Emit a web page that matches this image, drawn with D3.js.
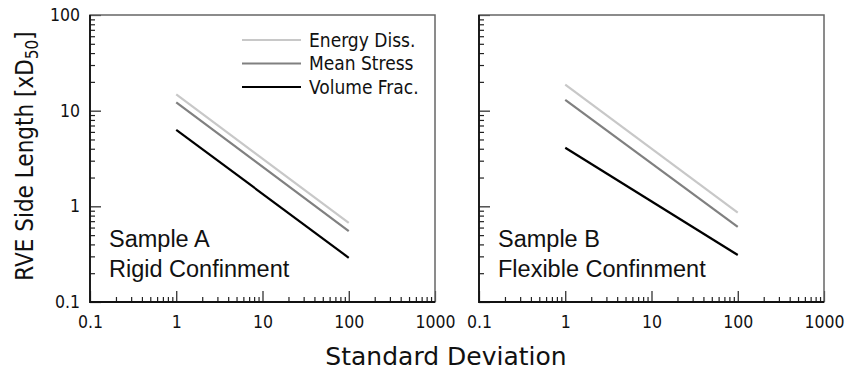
<!DOCTYPE html>
<html>
<head>
<meta charset="utf-8">
<script src="https://cdn.jsdelivr.net/npm/d3@7"></script>
<style>
  body { margin: 0; background: #fff; }
  svg { display: block; }
  .tick text { font-family: "DejaVu Sans Condensed", "DejaVu Sans", sans-serif; font-stretch: condensed; font-size: 17.5px; fill: #111; }
</style>
</head>
<body>
<script>
// data (values at sigma = 1 and sigma = 100)
var stdDev = [1, 100];
var seriesNames = ["Energy Diss.", "Mean Stress", "Volume Frac."];
var seriesColors = ["#c8c8c8", "#808080", "#000000"];
var sampleA = [[14.8, 0.67], [12.2, 0.55], [6.3, 0.29]];
var sampleB = [[18.7, 0.86], [13.0, 0.61], [4.1, 0.31]];
var panelLabels = [["Sample A", "Rigid Confinment"], ["Sample B", "Flexible Confinment"]];
var xMajor = [0.1, 1, 10, 100, 1000];
var yMajor = [0.1, 1, 10, 100];

var width = 845, height = 372;
var plotTop = 15, plotBottom = 302;
var panels = [
  { left: 90, right: 435, data: sampleA, text: panelLabels[0], yLabels: true, legend: true },
  { left: 479, right: 824, data: sampleB, text: panelLabels[1], yLabels: false, legend: false }
];
var condensed = "'DejaVu Sans Condensed', 'DejaVu Sans', sans-serif";

var svg = d3.select("body").append("svg")
  .attr("width", width)
  .attr("height", height);

var y = d3.scaleLog().domain([0.1, 100]).range([plotBottom, plotTop]);

function minorTicks(lo, hi) {
  var t = [];
  for (var e = lo; e < hi; e++) {
    for (var k = 2; k <= 9; k++) t.push(k * Math.pow(10, e));
  }
  return t;
}
var xMinor = minorTicks(-1, 3);
var yMinor = minorTicks(-1, 2);

panels.forEach(function (p) {
  var x = d3.scaleLog().domain([0.1, 1000]).range([p.left, p.right]);
  var g = svg.append("g");

  // minor ticks, pointing inwards
  g.append("g")
    .attr("transform", "translate(0," + plotBottom + ")")
    .call(d3.axisBottom(x).tickValues(xMinor).tickSize(-5).tickFormat(""));
  g.append("g")
    .attr("transform", "translate(" + p.left + ",0)")
    .call(d3.axisLeft(y).tickValues(yMinor).tickSize(-5).tickFormat(""));

  // major ticks with labels
  g.append("g")
    .attr("transform", "translate(0," + plotBottom + ")")
    .call(d3.axisBottom(x).tickValues(xMajor).tickSize(-11).tickPadding(14).tickFormat(d3.format("~g")));
  g.append("g")
    .attr("transform", "translate(" + p.left + ",0)")
    .call(d3.axisLeft(y).tickValues(yMajor).tickSize(-11).tickPadding(10)
      .tickFormat(p.yLabels ? d3.format("~g") : ""));

  g.selectAll(".domain").remove();
  g.selectAll(".tick line").attr("stroke", "#222").attr("stroke-width", 1.2);

  // frame
  g.append("rect")
    .attr("x", p.left).attr("y", plotTop)
    .attr("width", p.right - p.left).attr("height", plotBottom - plotTop)
    .attr("fill", "none").attr("stroke", "#666").attr("stroke-width", 1.5);
  g.append("path")
    .attr("d", "M" + p.left + "," + plotTop + "V" + plotBottom + "H" + p.right)
    .attr("fill", "none").attr("stroke", "#111").attr("stroke-width", 1.8);

  var line = d3.line()
    .x(function (d, i) { return x(stdDev[i]); })
    .y(function (d) { return y(d); });

  g.selectAll(".series")
    .data(p.data)
    .enter().append("path")
    .attr("class", "series")
    .attr("d", line)
    .attr("fill", "none")
    .attr("stroke", function (d, i) { return seriesColors[i]; })
    .attr("stroke-width", 2.2);

  g.append("text")
    .style("font-family", "'Liberation Sans', Arial, sans-serif")
    .style("font-size", "23.5px")
    .attr("fill", "#111")
    .selectAll("tspan")
    .data(p.text)
    .enter().append("tspan")
    .attr("x", p.left + 19)
    .attr("y", function (d, i) { return 247 + i * 30; })
    .text(function (d) { return d; });

  if (p.legend) {
    var lg = g.append("g").attr("transform", "translate(242,40)");
    var item = lg.selectAll("g")
      .data(seriesNames)
      .enter().append("g")
      .attr("transform", function (d, i) { return "translate(0," + i * 23.5 + ")"; });
    item.append("line")
      .attr("x1", 0).attr("x2", 59)
      .attr("stroke", function (d, i) { return seriesColors[i]; })
      .attr("stroke-width", 2.2);
    item.append("text")
      .attr("x", 67)
      .attr("dy", "0.35em")
      .style("font-family", condensed)
      .style("font-stretch", "condensed")
      .style("font-size", "19px")
      .attr("fill", "#111")
      .text(function (d) { return d; });
  }
});

// axis titles
svg.append("text")
  .attr("x", 446)
  .attr("y", 365)
  .attr("text-anchor", "middle")
  .style("font-family", "'DejaVu Sans', sans-serif")
  .style("font-size", "25px")
  .attr("fill", "#111")
  .text("Standard Deviation");

var yt = svg.append("text")
  .attr("transform", "translate(33,156) rotate(-90)")
  .attr("text-anchor", "middle")
  .style("font-family", condensed)
  .style("font-stretch", "condensed")
  .style("font-size", "24px")
  .attr("fill", "#111");
yt.append("tspan").text("RVE Side Length [xD");
yt.append("tspan").attr("dy", 5).style("font-size", "17px").text("50");
yt.append("tspan").attr("dy", -5).text("]");
</script>
</body>
</html>
